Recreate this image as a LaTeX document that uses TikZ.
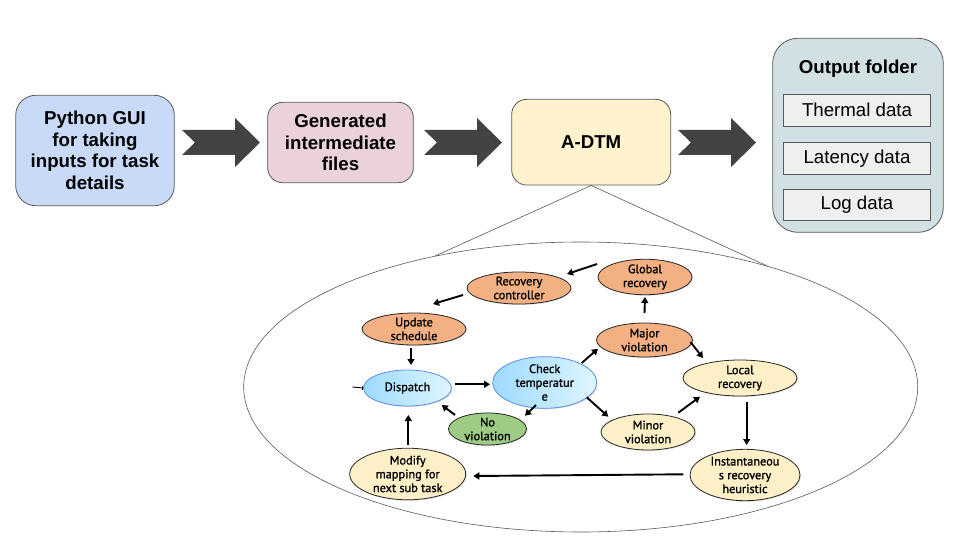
\documentclass[tikz,border=0pt]{standalone}
\usepackage{fontspec}
\setmainfont{Liberation Sans}
\newfontfamily\innerfont[FakeBold=1.2]{PT Sans}
\usetikzlibrary{shapes.geometric,calc,arrows.meta,shadows}
\definecolor{guiblue}{HTML}{C9DAF8}
\definecolor{genpink}{HTML}{EAD1DC}
\definecolor{adtmyel}{HTML}{FFF2CC}
\definecolor{outteal}{HTML}{D0E0E3}
\definecolor{boxgray}{HTML}{EFEFEF}
\definecolor{edgegray}{HTML}{595959}
\definecolor{arrowgray}{HTML}{434343}
\definecolor{orangefill}{HTML}{F2B083}
\definecolor{yelfill}{HTML}{FDEFC6}
\definecolor{greenfill}{HTML}{9FCC84}
\definecolor{bluedark}{HTML}{9DDAFF}
\definecolor{bluelight}{HTML}{DFF5FF}
\definecolor{blueedge}{HTML}{5C8FE6}
\newcommand\bigarrow[1]{%
  \fill[arrowgray] (#1,130) -- ++(53,0) -- ++(0,-12) -- ++(25,24.5) -- ++(-25,24.5)
    -- ++(0,-12) -- ++(-53,0) -- ++(13,-12.5) -- cycle;}
\begin{document}
\begin{tikzpicture}[x=1pt,y=-1pt,
  obox/.style={draw=edgegray, line width=0.8pt, align=center, inner sep=0pt,
    font=\bfseries\fontsize{18.67}{21.6}\selectfont},
  databox/.style={draw=edgegray, line width=0.8pt, fill=boxgray, inner sep=0pt,
    minimum width=147.4pt, minimum height=31.5pt, font=\fontsize{18.67}{21.6}\selectfont},
  ell/.style={ellipse, draw=black!85, line width=0.8pt, inner sep=0pt, align=center,
    font=\innerfont\fontsize{12.3}{13.8}\selectfont,
    drop shadow={shadow xshift=1pt, shadow yshift=-1pt, opacity=0.25}},
  orange/.style={ell, fill=orangefill},
  yel/.style={ell, fill=yelfill},
  grn/.style={ell, fill=greenfill},
  blu/.style={ell, draw=blueedge, left color=bluedark, right color=bluelight},
  arr/.style={line width=1.9pt, black, -{Triangle[length=6pt,width=7pt]}},
  thinline/.style={draw=edgegray, line width=0.6pt}
]
\useasboundingbox (0,0) rectangle (960,540);
\fill[white] (0,0) rectangle (960,540);

% top row
\node[obox, fill=guiblue, rounded corners=20pt, minimum width=158.6pt, minimum height=110.4pt]
  (gui) at (95,150.5) {Python GUI\\for taking\\inputs for task\\details};
\node[obox, fill=genpink, rounded corners=15pt, minimum width=145.6pt, minimum height=80.4pt]
  (gen) at (340.5,142.5) {Generated\\intermediate\\files};
\node[obox, fill=adtmyel, rounded corners=15pt, minimum width=159pt, minimum height=85.7pt]
  (adtm) at (591.2,142.2) {A-DTM};
\node[draw=edgegray, line width=0.8pt, fill=outteal, rounded corners=25pt, inner sep=0pt,
  minimum width=170.6pt, minimum height=194pt] (out) at (858,135.3) {};
\node[font=\bfseries\fontsize{18.67}{21.6}\selectfont, inner sep=0pt] (outt) at (858,69) {Output folder};
\node[databox] (thermal) at (857,110.2) {Thermal data};
\node[databox] (latency) at (857,158.3) {Latency data};
\node[databox] (logd) at (857,205) {Log data};

\bigarrow{182}
\bigarrow{424}
\bigarrow{678}

% zoom ellipse
\node[ellipse, thinline, inner sep=0pt, minimum width=674pt, minimum height=290pt]
  (zoom) at (580.7,387) {};
\draw[thinline] (adtm.south) -- (zoom.138);
\draw[thinline] (adtm.south) -- (zoom.33.75);

% inner state diagram
\node[orange, minimum width=94pt, minimum height=32pt] (glob) at (645,277) {Global\\recovery};
\node[orange, minimum width=104pt, minimum height=29pt] (rc) at (519,288) {Recovery\\controller};
\node[orange, minimum width=104pt, minimum height=32pt] (upd) at (414,329) {Update\\schedule};
\node[orange, minimum width=96pt, minimum height=34pt] (maj) at (644.5,340) {Major\\violation};
\node[blu, minimum width=88pt, minimum height=36pt] (disp) at (407.5,388) {Dispatch};
\node[blu, minimum width=104pt, minimum height=38pt] (chk) at (544.7,382.5) {Check\\temperatur\\e};
\node[yel, minimum width=114pt, minimum height=36pt] (loc) at (740,378) {Local\\recovery};
\node[grn, minimum width=78pt, minimum height=32pt] (nov) at (487.5,429) {No\\violation};
\node[yel, minimum width=94pt, minimum height=36pt] (min) at (648,432) {Minor\\violation};
\node[yel, minimum width=116pt, minimum height=45pt] (mod) at (407.7,474) {Modify\\mapping for\\next sub task};
\node[yel, minimum width=110pt, minimum height=46pt] (inst) at (745,475) {Instantaneou\\s recovery\\heuristic};

\draw[arr] ($(glob)+(-48,-13)$) -- ($(rc)+(48,-14)$);
\draw[arr] ($(rc)+(-56,7)$) -- ($(upd)+(19,-25)$);
\draw[arr] ($(maj)+(0,-27)$) -- ($(glob)+(0,20)$);
\draw[arr] ($(upd)+(-3,19)$) -- ($(disp)+(3.5,-23)$);
\draw[arr] ($(chk)+(37,-19.5)$) -- ($(maj)+(-46.5,8.7)$);
\draw[arr] ($(maj)+(46,2)$) -- ($(loc)+(-37,-20)$);
\draw[arr] ($(disp)+(47.5,-3.7)$) -- ($(chk)+(-54.7,1.8)$);
\draw[arr] ($(chk)+(-8.7,22.5)$) -- ($(nov)+(37.5,-13.3)$);
\draw[arr] ($(nov)+(-32.5,-14)$) -- ($(disp)+(34.2,17)$);
\draw[arr] ($(chk)+(42,14.8)$) -- ($(min)+(-39.7,-15.3)$);
\draw[arr] ($(min)+(30.3,-19.3)$) -- ($(loc)+(-40,18.7)$);
\draw[arr] ($(loc)+(6.7,23.7)$) -- ($(inst)+(1.7,-30)$);
\draw[arr] ($(inst)+(-61.7,-0.7)$) -- ($(mod)+(65.6,2)$);
\draw[arr] ($(mod)+(0.6,-29)$) -- ($(disp)+(0.8,27)$);
\coordinate (tickstart) at ($(disp)+(-55,-1)$);
\draw[line width=0.9pt, black, -{Bar[width=4pt]}] (tickstart) -- (disp.west);
\end{tikzpicture}
\end{document}
